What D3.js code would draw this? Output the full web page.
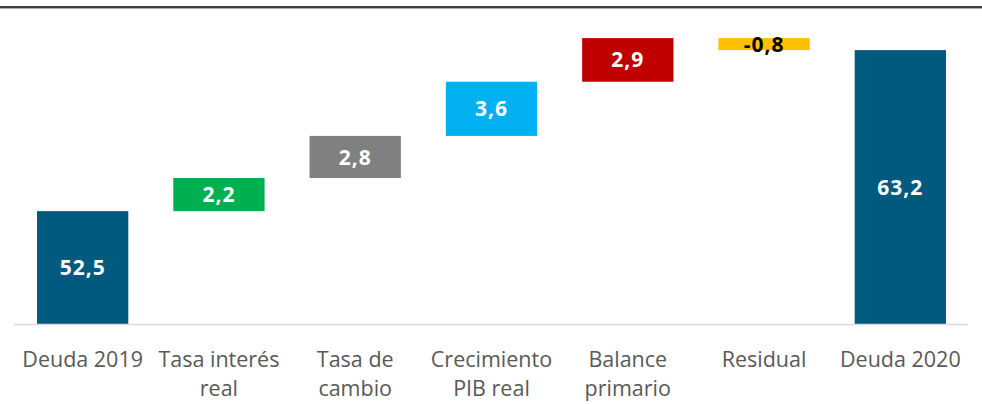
<!DOCTYPE html>
<html><head><meta charset="utf-8">
<script src="https://cdn.jsdelivr.net/npm/d3@7"></script>
<style>
html,body{margin:0;padding:0;background:#fff;}
svg{display:block;}
</style></head>
<body>
<script>
const categories = ["Deuda 2019", "Tasa interés real", "Tasa de cambio", "Crecimiento PIB real", "Balance primario", "Residual", "Deuda 2020"];
const categoryLines = [["Deuda 2019"], ["Tasa interés", "real"], ["Tasa de", "cambio"], ["Crecimiento", "PIB real"], ["Balance", "primario"], ["Residual"], ["Deuda 2020"]];
const values = [52.5, 2.2, 2.8, 3.6, 2.9, -0.8, 63.2];
const kinds = ["total", "delta", "delta", "delta", "delta", "delta", "total"];
const colors = ["#005a80", "#00b050", "#808080", "#00b0f0", "#c00000", "#ffc000", "#005a80"];
const labelColors = ["#fff", "#fff", "#fff", "#fff", "#fff", "#000", "#fff"];
const yDomain = [45, 66];

const W = 982, H = 404;
const svg = d3.select("body").append("svg").attr("width", W).attr("height", H);

const x = d3.scaleBand().domain(categories).range([14.5, 968.5]).paddingInner(0.33).paddingOuter(0.165);
const y = d3.scaleLinear().domain(yDomain).range([324, 8]);

const locale = d3.formatLocale({decimal: ",", thousands: ".", grouping: [3], currency: ["", ""], minus: "-"});
const fmt = locale.format(".1f");

let run = 0;
const bars = values.map((v, i) => {
  let lo, hi;
  if (kinds[i] === "total") { lo = yDomain[0]; hi = v; run = v; }
  else { const s = run; run = run + v; lo = Math.min(s, run); hi = Math.max(s, run); }
  return {cat: categories[i], v, lo, hi, color: colors[i], lc: labelColors[i]};
});

// top double rule
svg.append("line").attr("x1", 0).attr("x2", W).attr("y1", 7).attr("y2", 7).attr("stroke", "#000").attr("stroke-width", 1.6);
svg.append("line").attr("x1", 0).attr("x2", W).attr("y1", 8.6).attr("y2", 8.6).attr("stroke", "#a6a6a6").attr("stroke-width", 1);

svg.selectAll("rect.bar").data(bars).enter().append("rect")
  .attr("x", d => x(d.cat)).attr("width", x.bandwidth())
  .attr("y", d => y(d.hi)).attr("height", d => y(d.lo) - y(d.hi))
  .attr("fill", d => d.color);

// baseline
svg.append("line").attr("x1", 14).attr("x2", 968).attr("y1", 324.5).attr("y2", 324.5).attr("stroke", "#d9d9d9").attr("stroke-width", 1.5);

svg.selectAll("text.val").data(bars).enter().append("text")
  .attr("x", d => x(d.cat) + x.bandwidth() / 2)
  .attr("y", d => (y(d.lo) + y(d.hi)) / 2)
  .attr("dy", "0.36em")
  .attr("text-anchor", "middle")
  .attr("font-family", "'Open Sans', sans-serif")
  .attr("font-weight", "bold")
  .attr("font-size", 21)
  .attr("letter-spacing", 1)
  .attr("fill", d => d.lc)
  .text(d => fmt(d.v));

const xl = svg.append("g").attr("font-family", "'Open Sans', sans-serif").attr("font-size", 21.5).attr("fill", "#595959");
categoryLines.forEach((lines, i) => {
  const cx = x(categories[i]) + x.bandwidth() / 2;
  const t = xl.append("text").attr("text-anchor", "middle").attr("x", cx).attr("y", 367);
  lines.forEach((l, j) => t.append("tspan").attr("x", cx).attr("dy", j === 0 ? 0 : 29).text(l));
});
</script>
</body></html>
